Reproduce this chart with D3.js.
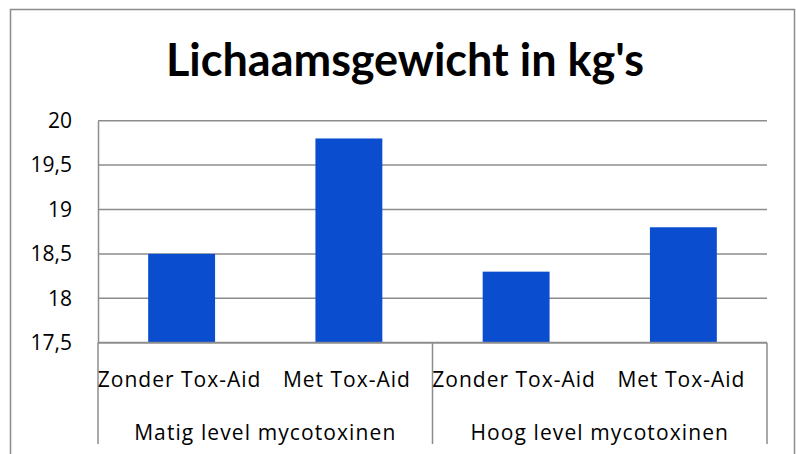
<!DOCTYPE html>
<html>
<head>
<meta charset="utf-8">
<script src="https://cdn.jsdelivr.net/npm/d3@7"></script>
<style>
  body { margin: 0; background: #fff; }
  svg { display: block; }
  text { fill: #000; }
</style>
</head>
<body>
<div id="chart"></div>
<script>
'use strict';

// data
const title = "Lichaamsgewicht in kg's"
const categories = ['Zonder Tox-Aid', 'Met Tox-Aid', 'Zonder Tox-Aid', 'Met Tox-Aid']
const groups = ['Matig level mycotoxinen', 'Hoog level mycotoxinen']
const values = [18.5, 19.8, 18.3, 18.8]
const yTicks = [17.5, 18, 18.5, 19, 19.5, 20]

var width = 796,
    height = 454;

var plot = { left: 98, right: 767, top: 120.7, bottom: 342.7 }

var svg = d3.select('#chart').append('svg')
    .attr('width', width)
    .attr('height', height)

// outer chart border (runs off the bottom of the picture)
svg.append('rect')
    .attr('x', 10.5)
    .attr('y', 9.5)
    .attr('width', 784)
    .attr('height', 470)
    .attr('fill', 'none')
    .attr('stroke', '#8c8c8c')
    .attr('stroke-width', 1.5)

svg.append('text')
    .attr('x', 405)
    .attr('y', 76)
    .attr('text-anchor', 'middle')
    .style('font-family', 'Lato, sans-serif')
    .style('font-size', '45px')
    .style('font-weight', 'bold')
    .text(title)

var y = d3.scaleLinear()
    .domain([17.5, 20])
    .range([plot.bottom, plot.top])

// one slot per bar, bar = 40% of slot (Excel gap width 150%)
var x = d3.scaleBand()
    .domain(d3.range(categories.length))
    .range([plot.left, plot.right])
    .paddingInner(0.6)
    .paddingOuter(0.3)

var xGroup = d3.scaleBand()
    .domain(d3.range(groups.length))
    .range([plot.left, plot.right])

// gridlines
svg.append('g').selectAll('line')
    .data(yTicks.slice(1))
    .enter().append('line')
    .attr('x1', plot.left)
    .attr('x2', plot.right)
    .attr('y1', d => y(d))
    .attr('y2', d => y(d))
    .attr('stroke', '#8c8c8c')
    .attr('stroke-width', 1.5)

// y axis
var yAxis = d3.axisLeft(y)
    .tickValues(yTicks)
    .tickSize(0)
    .tickPadding(26)
    .tickFormat(d => d3.format('')(d).replace('.', ','))

svg.append('g')
    .attr('transform', 'translate(' + plot.left + ',0)')
    .call(yAxis)
    .call(g => g.select('.domain').attr('stroke', '#8c8c8c').attr('stroke-width', 1.5))
    .call(g => g.selectAll('text')
        .style('font-family', '"Open Sans", sans-serif')
        .style('font-size', '21px')
        .attr('fill', '#000'))

// bars
svg.append('g').selectAll('rect')
    .data(values)
    .enter().append('rect')
    .attr('x', (d, i) => x(i))
    .attr('width', x.bandwidth())
    .attr('y', d => y(d))
    .attr('height', d => y(17.5) - y(d))
    .attr('fill', '#0a4ecf')

// x axis line
svg.append('line')
    .attr('x1', plot.left)
    .attr('x2', plot.right)
    .attr('y1', plot.bottom)
    .attr('y2', plot.bottom)
    .attr('stroke', '#8c8c8c')
    .attr('stroke-width', 2)

// group separators
var sepX = xGroup.domain().map(i => xGroup(i)).concat([plot.right])
svg.append('g').selectAll('line')
    .data(sepX)
    .enter().append('line')
    .attr('x1', d => d)
    .attr('x2', d => d)
    .attr('y1', plot.bottom)
    .attr('y2', 444)
    .attr('stroke', '#8c8c8c')
    .attr('stroke-width', 1.5)

// category labels
svg.append('g').selectAll('text')
    .data(categories)
    .enter().append('text')
    .attr('x', (d, i) => x(i) + x.bandwidth() / 2 - 2)
    .attr('y', 387)
    .attr('text-anchor', 'middle')
    .style('font-family', '"Open Sans", sans-serif')
    .style('font-size', '21px')
    .style('letter-spacing', '1px')
    .text(d => d)

// group labels
svg.append('g').selectAll('text')
    .data(groups)
    .enter().append('text')
    .attr('x', (d, i) => xGroup(i) + xGroup.bandwidth() / 2)
    .attr('y', 440)
    .attr('text-anchor', 'middle')
    .style('font-family', '"Open Sans", sans-serif')
    .style('font-size', '21px')
    .style('letter-spacing', '1.1px')
    .text(d => d)
</script>
</body>
</html>
